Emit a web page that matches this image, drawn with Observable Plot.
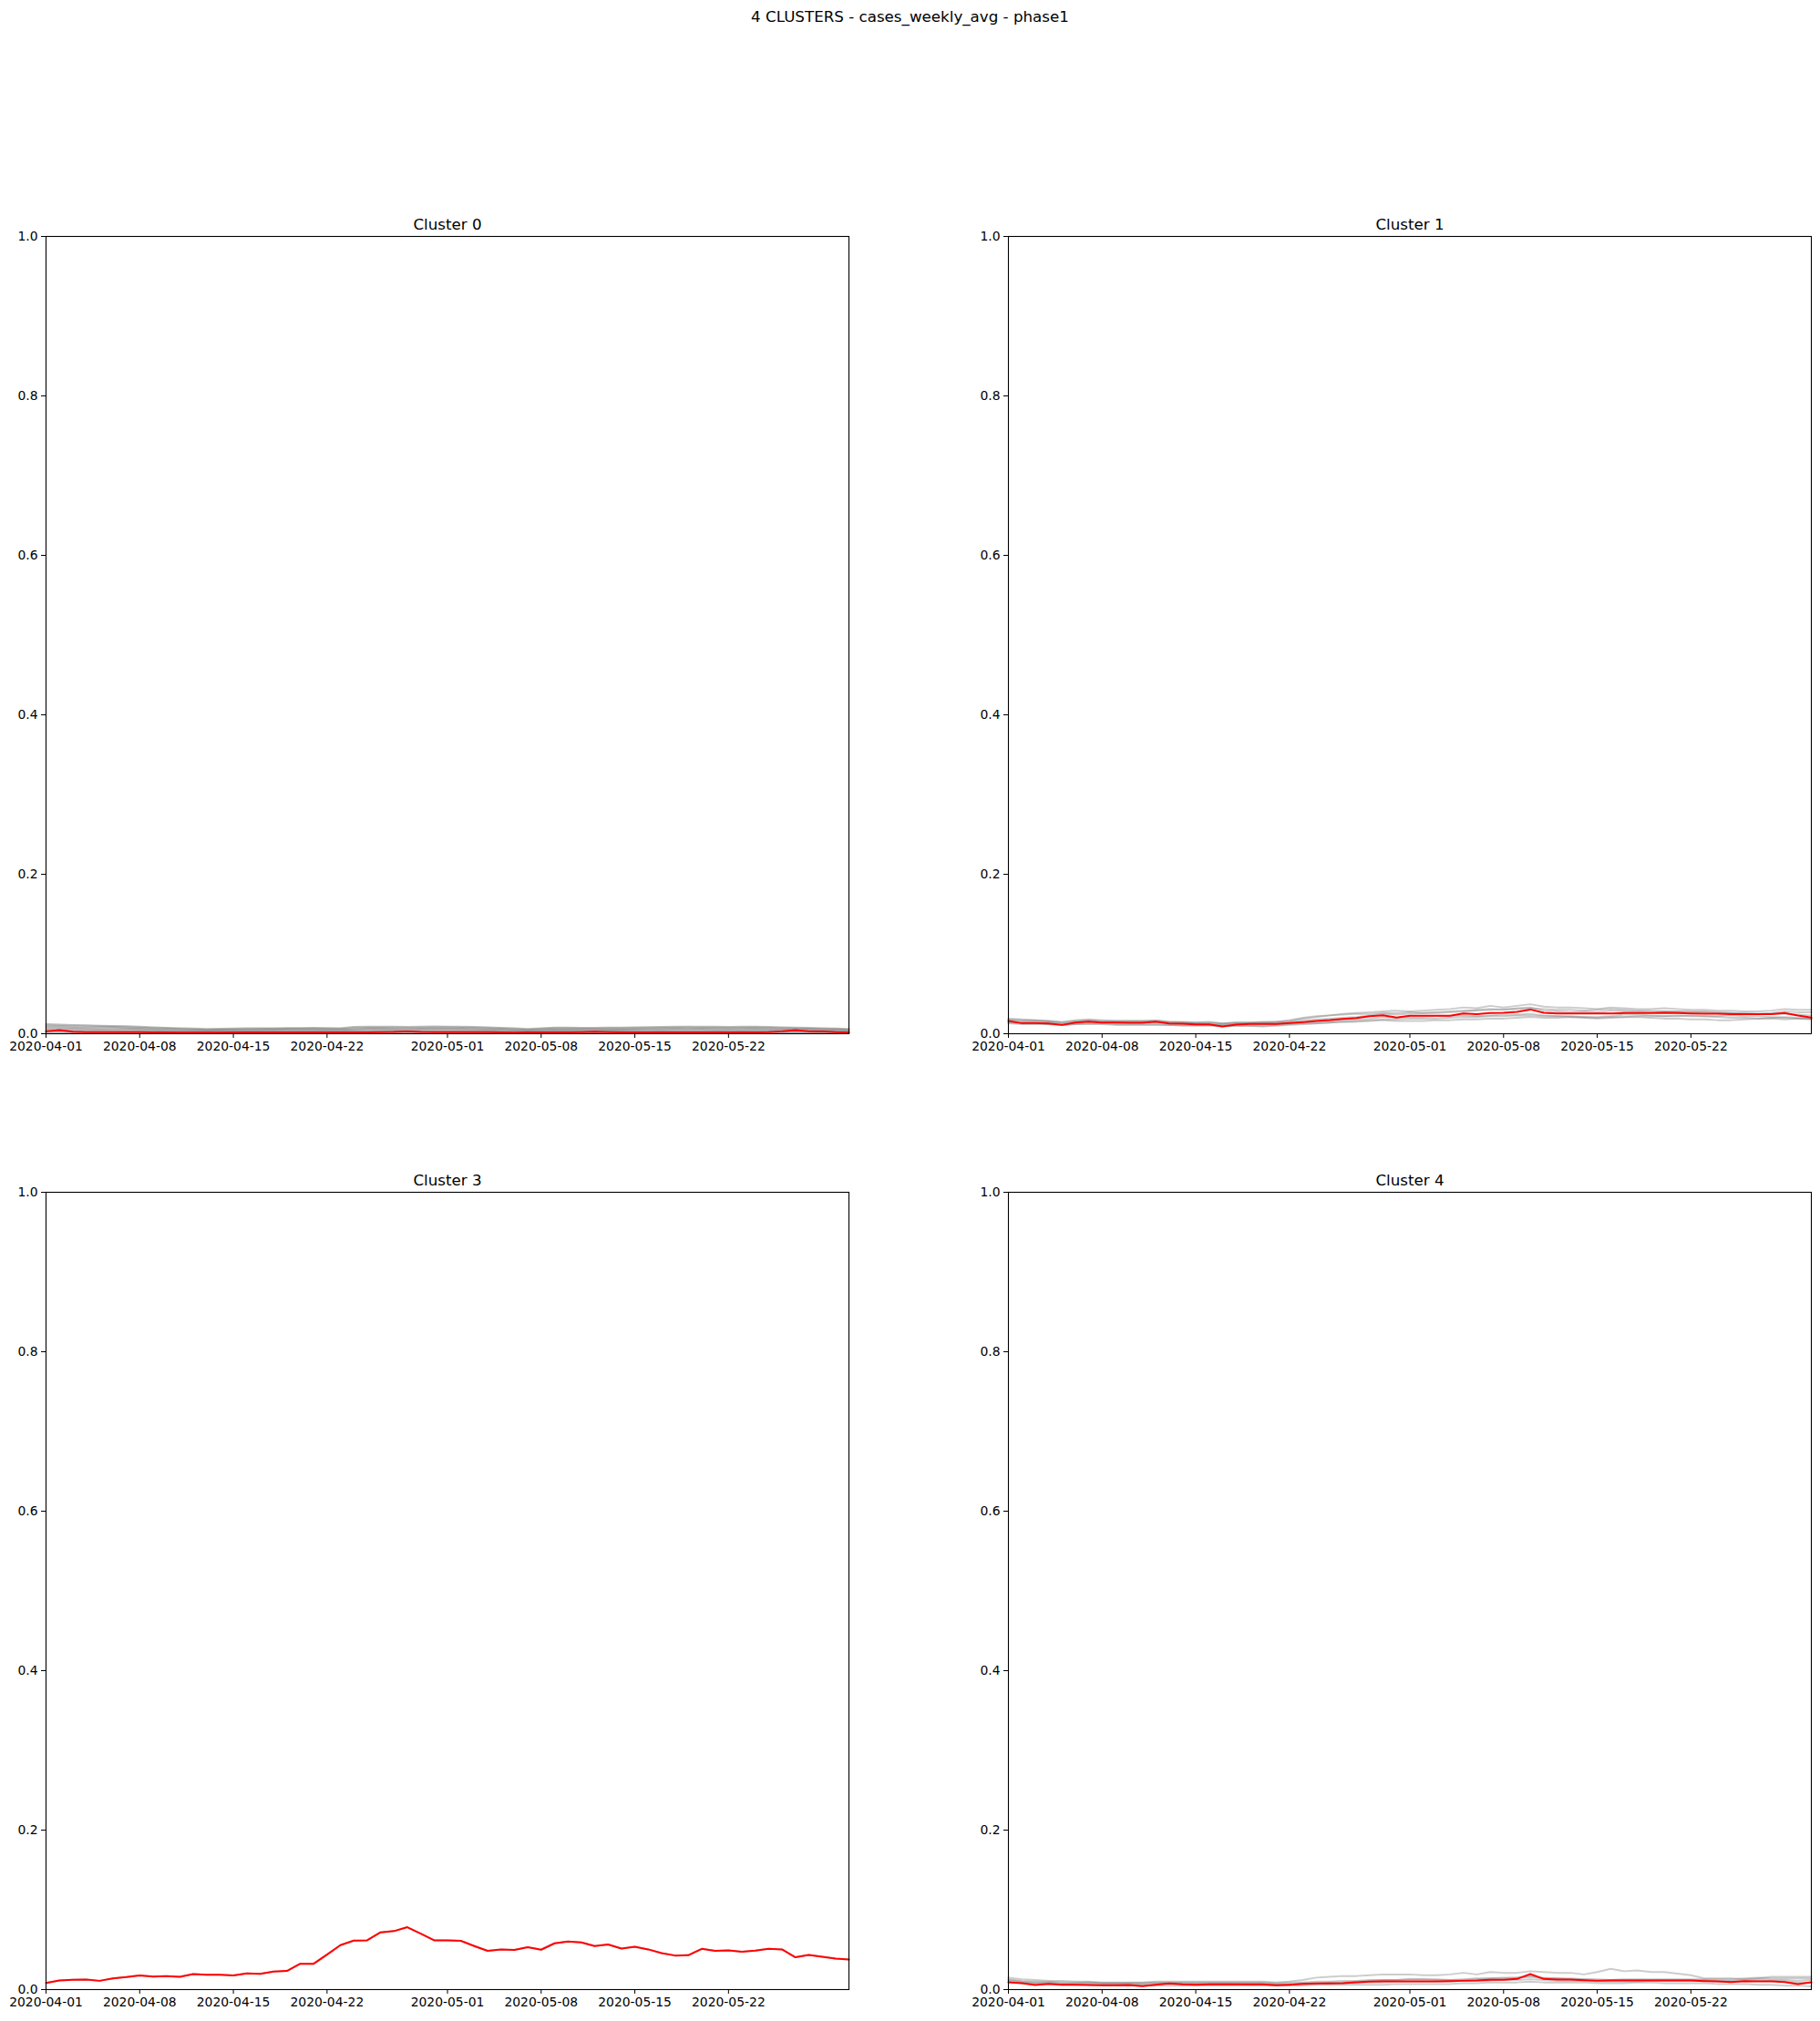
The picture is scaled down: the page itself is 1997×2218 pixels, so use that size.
<!DOCTYPE html>
<html>
<head>
<meta charset="utf-8">
<script src="https://cdn.jsdelivr.net/npm/d3@7"></script>
<script src="https://cdn.jsdelivr.net/npm/@observablehq/plot@0.6"></script>
<style>
  html, body { margin: 0; padding: 0; background: white; }
  body { width: 1997px; height: 2218px; position: relative; font-family: "DejaVu Sans", sans-serif; }
  #suptitle { position: absolute; top: 8px; left: 0; width: 1997px; text-align: center; font-size: 16.7px; color: black; }
  .panel { position: absolute; }
</style>
</head>
<body>
<div id="suptitle">4 CLUSTERS - cases_weekly_avg - phase1</div>
<div id="p0" class="panel" style="left:0px; top:219px;"></div>
<div id="p1" class="panel" style="left:1056px; top:219px;"></div>
<div id="p3" class="panel" style="left:0px; top:1268px;"></div>
<div id="p4" class="panel" style="left:1056px; top:1268px;"></div>
<script>
// ---- x categories (daily dates) and tick labels ----
const startDate = "2020-04-01";
const endDate = "2020-05-31";
const xTickLabels = ["2020-04-01","2020-04-08","2020-04-15","2020-04-22","2020-05-01","2020-05-08","2020-05-15","2020-05-22"];
const yTicks = [0.0, 0.2, 0.4, 0.6, 0.8, 1.0];
const panelTitles = ["Cluster 0", "Cluster 1", "Cluster 3", "Cluster 4"];

// ---- Cluster 0 ----
const c0_mean = [0.003,0.0045,0.0025,0.002,0.002,0.002,0.002,0.002,0.0018,0.0018,
  0.0015,0.0015,0.0015,0.0015,0.0017,0.0017,0.0017,0.0017,0.0017,0.0017,
  0.0017,0.0018,0.0018,0.0018,0.0018,0.002,0.0022,0.003,0.0022,0.002,
  0.002,0.002,0.002,0.002,0.0018,0.0015,0.0018,0.0018,0.0018,0.0018,
  0.002,0.0025,0.002,0.0018,0.0018,0.0018,0.0018,0.0018,0.0018,0.0018,
  0.0018,0.0018,0.0018,0.0018,0.002,0.003,0.0045,0.003,0.003,0.002,0.0015];
const c0_a = [0.012,0.0115,0.011,0.0105,0.01,0.0098,0.0095,0.0088,0.008,0.0075,
  0.007,0.0065,0.006,0.0062,0.0065,0.0068,0.007,0.007,0.0072,0.0072,
  0.0073,0.0072,0.007,0.0085,0.009,0.009,0.0088,0.0085,0.009,0.0092,
  0.009,0.0088,0.0085,0.008,0.0075,0.007,0.006,0.0068,0.0078,0.0078,
  0.0075,0.0075,0.0078,0.0078,0.008,0.0082,0.0085,0.0088,0.009,0.009,
  0.0088,0.0085,0.0088,0.009,0.0085,0.008,0.0078,0.0075,0.007,0.0065,0.006];
const c0_b = [0.01,0.0098,0.0095,0.009,0.0088,0.0085,0.008,0.0075,0.007,0.0065,
  0.006,0.0055,0.005,0.0052,0.0055,0.0058,0.006,0.006,0.0062,0.0062,
  0.0062,0.006,0.006,0.007,0.0075,0.0075,0.0072,0.007,0.0075,0.0078,
  0.0078,0.0075,0.0072,0.0068,0.0062,0.0058,0.005,0.0058,0.0065,0.0065,
  0.0062,0.0062,0.0065,0.0065,0.0068,0.007,0.0072,0.0075,0.0076,0.0075,
  0.0074,0.0072,0.0074,0.0076,0.0072,0.0068,0.0066,0.0064,0.006,0.0056,0.005];
const c0_c = [0.008,0.0078,0.0075,0.0072,0.007,0.0068,0.0065,0.006,0.0055,0.005,
  0.0045,0.0042,0.004,0.0042,0.0045,0.0046,0.0048,0.0048,0.005,0.005,
  0.005,0.0048,0.0048,0.0055,0.006,0.006,0.0058,0.0056,0.006,0.0062,
  0.0062,0.006,0.0058,0.0055,0.005,0.0046,0.004,0.0046,0.0052,0.0052,
  0.005,0.005,0.0052,0.0052,0.0055,0.0056,0.0058,0.006,0.006,0.006,
  0.0058,0.0057,0.0058,0.006,0.0058,0.0055,0.0053,0.0051,0.0048,0.0045,0.004];
const c0_d = [0.006,0.0058,0.0056,0.0054,0.0052,0.005,0.0048,0.0045,0.0042,0.0038,
  0.0034,0.0032,0.003,0.0032,0.0034,0.0035,0.0036,0.0036,0.0038,0.0038,
  0.0038,0.0036,0.0036,0.0042,0.0045,0.0045,0.0044,0.0042,0.0045,0.0047,
  0.0047,0.0045,0.0044,0.0042,0.0038,0.0035,0.003,0.0035,0.004,0.004,
  0.0038,0.0038,0.004,0.004,0.0042,0.0043,0.0044,0.0045,0.0046,0.0046,
  0.0044,0.0043,0.0044,0.0045,0.0044,0.0042,0.004,0.0038,0.0036,0.0034,0.003];
const c0_e = [0.004,0.0038,0.0036,0.0035,0.0034,0.0032,0.003,0.0028,0.0026,0.0024,
  0.0022,0.002,0.002,0.002,0.0021,0.0022,0.0022,0.0022,0.0023,0.0024,
  0.0024,0.0023,0.0023,0.0027,0.0028,0.0028,0.0028,0.0027,0.0028,0.003,
  0.003,0.0028,0.0027,0.0026,0.0024,0.0022,0.002,0.0022,0.0025,0.0025,
  0.0024,0.0024,0.0025,0.0025,0.0027,0.0027,0.0028,0.0028,0.0029,0.0029,
  0.0028,0.0027,0.0028,0.0028,0.0028,0.0027,0.0026,0.0025,0.0024,0.0022,0.002];
const c0_f = [0.002,0.0019,0.0018,0.0017,0.0016,0.0015,0.0014,0.0013,0.0012,0.0011,
  0.001,0.001,0.001,0.001,0.001,0.001,0.001,0.001,0.0011,0.0011,
  0.0011,0.0011,0.0011,0.0013,0.0014,0.0014,0.0014,0.0013,0.0014,0.0015,
  0.0015,0.0014,0.0013,0.0012,0.0011,0.001,0.001,0.001,0.0012,0.0012,
  0.0012,0.0012,0.0012,0.0012,0.0013,0.0013,0.0014,0.0014,0.0014,0.0014,
  0.0014,0.0013,0.0014,0.0014,0.0014,0.0013,0.0013,0.0012,0.0012,0.0011,0.001];

// ---- Cluster 1 ----
const c1_mean = [0.016,0.0133,0.0133,0.0129,0.011,0.0141,0.0152,0.0141,0.0141,0.0137,
  0.0137,0.0152,0.0129,0.0126,0.0118,0.0118,0.0091,0.0114,0.0122,0.0122,
  0.0122,0.0133,0.0145,0.016,0.0171,0.0186,0.0198,0.0221,0.0232,0.0202,
  0.0225,0.0225,0.0225,0.0225,0.0255,0.0247,0.0259,0.0263,0.0274,0.0304,
  0.0263,0.0255,0.0255,0.0255,0.0255,0.0255,0.0259,0.0259,0.0259,0.0263,
  0.0259,0.0255,0.0251,0.0251,0.0247,0.0247,0.0247,0.0247,0.0259,0.0228,0.0202];
const c1_a = [0.018,0.017,0.017,0.016,0.014,0.016,0.017,0.016,0.016,0.016,
  0.016,0.016,0.015,0.015,0.014,0.014,0.013,0.014,0.014,0.015,
  0.015,0.016,0.019,0.021,0.023,0.025,0.026,0.027,0.028,0.029,
  0.028,0.029,0.03,0.031,0.033,0.032,0.035,0.033,0.035,0.037,
  0.034,0.033,0.033,0.032,0.031,0.033,0.032,0.031,0.031,0.032,
  0.031,0.03,0.03,0.029,0.029,0.028,0.028,0.029,0.031,0.03,0.03];
const c1_b = [0.017,0.016,0.016,0.015,0.013,0.015,0.016,0.015,0.015,0.015,
  0.015,0.015,0.014,0.014,0.013,0.013,0.012,0.013,0.013,0.014,
  0.015,0.017,0.02,0.022,0.023,0.024,0.025,0.025,0.026,0.026,
  0.027,0.026,0.027,0.028,0.029,0.029,0.03,0.031,0.031,0.032,
  0.031,0.03,0.03,0.029,0.03,0.031,0.03,0.029,0.029,0.028,
  0.028,0.028,0.028,0.027,0.026,0.026,0.025,0.025,0.025,0.024,0.023];
const c1_c = [0.014,0.013,0.013,0.012,0.011,0.012,0.013,0.013,0.012,0.012,
  0.012,0.012,0.011,0.011,0.011,0.011,0.01,0.01,0.01,0.009,
  0.01,0.011,0.012,0.013,0.014,0.015,0.015,0.016,0.017,0.016,
  0.016,0.016,0.017,0.017,0.018,0.018,0.019,0.019,0.02,0.021,
  0.02,0.02,0.021,0.02,0.019,0.02,0.021,0.021,0.02,0.019,
  0.019,0.018,0.018,0.017,0.017,0.018,0.019,0.019,0.018,0.019,0.019];
const c1_d = [0.015,0.014,0.014,0.014,0.012,0.014,0.015,0.014,0.014,0.014,
  0.014,0.014,0.013,0.013,0.012,0.012,0.011,0.012,0.012,0.012,
  0.012,0.013,0.014,0.015,0.016,0.017,0.018,0.019,0.021,0.02,
  0.021,0.021,0.022,0.022,0.023,0.022,0.023,0.024,0.024,0.025,
  0.023,0.022,0.022,0.021,0.021,0.022,0.024,0.024,0.023,0.022,
  0.022,0.023,0.022,0.022,0.023,0.022,0.022,0.021,0.021,0.02,0.019];
const c1_e = [0.019,0.018,0.017,0.016,0.015,0.017,0.018,0.017,0.016,0.016,
  0.016,0.017,0.015,0.014,0.014,0.015,0.013,0.014,0.014,0.014,
  0.014,0.015,0.017,0.018,0.019,0.02,0.021,0.023,0.025,0.024,
  0.025,0.026,0.026,0.027,0.028,0.03,0.031,0.03,0.032,0.033,
  0.029,0.028,0.027,0.028,0.027,0.029,0.028,0.028,0.027,0.028,
  0.028,0.027,0.027,0.026,0.026,0.025,0.025,0.026,0.028,0.027,0.027];
const c1_f = [0.013,0.012,0.012,0.012,0.011,0.012,0.012,0.012,0.011,0.011,
  0.011,0.011,0.011,0.01,0.01,0.01,0.009,0.01,0.01,0.01,
  0.011,0.012,0.013,0.013,0.014,0.015,0.016,0.017,0.018,0.018,
  0.019,0.019,0.019,0.02,0.021,0.021,0.022,0.022,0.023,0.023,
  0.022,0.022,0.021,0.021,0.02,0.021,0.021,0.022,0.022,0.022,
  0.023,0.022,0.022,0.021,0.02,0.02,0.019,0.02,0.02,0.019,0.018];

// ---- Cluster 3 (single member) ----
const c3_mean = [0.0084,0.0115,0.0122,0.0126,0.011,0.0141,0.0156,0.0176,0.0164,0.0168,
  0.016,0.0195,0.0187,0.0187,0.0176,0.0202,0.0198,0.0225,0.0233,0.0324,
  0.0324,0.0439,0.0557,0.0615,0.0618,0.0718,0.0733,0.0782,0.0702,0.0618,
  0.0618,0.0611,0.0546,0.0485,0.0504,0.0496,0.0531,0.05,0.058,0.0603,
  0.0592,0.0546,0.0565,0.0515,0.0538,0.0504,0.0458,0.0427,0.0431,0.0511,
  0.0485,0.0492,0.0473,0.0489,0.0511,0.0504,0.0405,0.0435,0.0412,0.0389,0.0378];

// ---- Cluster 4 ----
const c4_mean = [0.0091,0.008,0.0057,0.0072,0.0061,0.0061,0.0057,0.0053,0.0053,0.0057,
  0.0042,0.0061,0.0076,0.0065,0.0061,0.0065,0.0065,0.0065,0.0065,0.0065,
  0.0053,0.0061,0.0072,0.0076,0.0076,0.008,0.0091,0.0099,0.0103,0.0103,
  0.0103,0.0103,0.0103,0.0107,0.011,0.0114,0.0122,0.0122,0.0133,0.0194,
  0.0133,0.0126,0.0126,0.0118,0.011,0.0114,0.0114,0.0114,0.0114,0.0114,
  0.0114,0.0114,0.0107,0.0103,0.0095,0.0107,0.0103,0.0103,0.0095,0.0068,0.0091];
const c4_a = [0.015,0.013,0.012,0.011,0.011,0.01,0.01,0.009,0.009,0.009,
  0.009,0.01,0.01,0.01,0.01,0.01,0.01,0.01,0.01,0.01,
  0.009,0.01,0.012,0.015,0.016,0.017,0.017,0.018,0.019,0.019,
  0.019,0.018,0.018,0.019,0.021,0.019,0.022,0.021,0.021,0.023,
  0.022,0.021,0.021,0.019,0.022,0.026,0.023,0.024,0.022,0.022,
  0.02,0.018,0.014,0.014,0.014,0.013,0.014,0.016,0.016,0.016,0.016];
const c4_b = [0.012,0.01,0.009,0.009,0.008,0.008,0.009,0.008,0.008,0.008,
  0.008,0.008,0.008,0.008,0.008,0.008,0.008,0.008,0.008,0.008,
  0.007,0.007,0.008,0.008,0.009,0.009,0.01,0.011,0.012,0.012,
  0.013,0.013,0.013,0.012,0.012,0.013,0.014,0.014,0.015,0.017,
  0.015,0.014,0.014,0.013,0.012,0.012,0.012,0.012,0.012,0.012,
  0.012,0.012,0.012,0.011,0.011,0.012,0.013,0.012,0.012,0.011,0.012];
const c4_c = [0.009,0.008,0.007,0.007,0.006,0.006,0.006,0.005,0.005,0.005,
  0.005,0.005,0.005,0.005,0.005,0.005,0.005,0.005,0.005,0.005,
  0.005,0.005,0.005,0.006,0.006,0.006,0.006,0.006,0.006,0.007,
  0.007,0.007,0.007,0.007,0.008,0.008,0.009,0.009,0.009,0.01,
  0.009,0.009,0.009,0.009,0.008,0.008,0.008,0.009,0.009,0.008,
  0.008,0.008,0.008,0.007,0.007,0.007,0.006,0.006,0.005,0.005,0.004];
const c4_d = [0.011,0.009,0.008,0.008,0.007,0.007,0.007,0.007,0.007,0.007,
  0.006,0.007,0.007,0.007,0.007,0.007,0.007,0.007,0.006,0.006,
  0.006,0.006,0.007,0.007,0.008,0.008,0.008,0.009,0.009,0.01,
  0.01,0.01,0.01,0.01,0.011,0.011,0.011,0.012,0.012,0.013,
  0.012,0.011,0.011,0.011,0.01,0.01,0.01,0.01,0.011,0.011,
  0.011,0.011,0.011,0.01,0.01,0.01,0.011,0.011,0.01,0.009,0.009];
const c4_e = [0.013,0.011,0.01,0.01,0.009,0.009,0.009,0.008,0.008,0.008,
  0.008,0.009,0.009,0.009,0.009,0.009,0.009,0.009,0.009,0.009,
  0.008,0.009,0.009,0.01,0.01,0.011,0.011,0.012,0.012,0.012,
  0.013,0.013,0.012,0.012,0.013,0.014,0.014,0.015,0.015,0.016,
  0.014,0.014,0.013,0.013,0.013,0.012,0.013,0.013,0.013,0.013,
  0.013,0.013,0.013,0.013,0.013,0.014,0.015,0.014,0.014,0.014,0.014];

const clusterMembers = [
  [c0_a, c0_b, c0_c, c0_d, c0_e, c0_f],
  [c1_a, c1_b, c1_c, c1_d, c1_e, c1_f],
  [c3_mean],
  [c4_a, c4_b, c4_c, c4_d, c4_e]
];
const clusterMeans = [c0_mean, c1_mean, c3_mean, c4_mean];
const memberOpacity = [0.55, 0.4, 0.4, 0.4];
const panelIds = ["p0", "p1", "p3", "p4"];

const dates = d3.utcDay.range(new Date(startDate + "T00:00:00Z"), d3.utcDay.offset(new Date(endDate + "T00:00:00Z"), 1));
const tickDates = xTickLabels.map(s => new Date(s + "T00:00:00Z"));
const fmt = d3.utcFormat("%Y-%m-%d");

for (let k = 0; k < 4; k++) {
  const memberRows = [];
  clusterMembers[k].forEach((arr, m) => arr.forEach((v, i) => memberRows.push({date: dates[i], value: v, member: m})));
  const meanRows = clusterMeans[k].map((v, i) => ({date: dates[i], value: v}));
  const chart = Plot.plot({
    width: 941,
    height: 955,
    marginLeft: 50,
    marginRight: 10,
    marginTop: 40,
    marginBottom: 40,
    style: {fontFamily: "DejaVu Sans, sans-serif", fontSize: "13.9px", color: "black", background: "white", overflow: "visible"},
    x: {type: "utc", domain: [dates[0], dates[dates.length - 1]], ticks: tickDates, tickFormat: fmt, tickSize: 5, tickPadding: 4, label: null},
    y: {domain: [0, 1], ticks: yTicks, tickFormat: d3.format(".1f"), tickSize: 5, tickPadding: 4, label: null},
    marks: [
      Plot.line(memberRows, {x: "date", y: "value", z: "member", stroke: "gray", strokeOpacity: memberOpacity[k], strokeWidth: 2}),
      Plot.line(meanRows, {x: "date", y: "value", stroke: "red", strokeWidth: 2}),
      Plot.frame({stroke: "black", strokeWidth: 1.1}),
      Plot.text([panelTitles[k]], {text: d => d, frameAnchor: "top", dy: -8, lineAnchor: "bottom", fontSize: 16.7, fill: "black"})
    ]
  });
  document.getElementById(panelIds[k]).appendChild(chart);
}
</script>
</body>
</html>
